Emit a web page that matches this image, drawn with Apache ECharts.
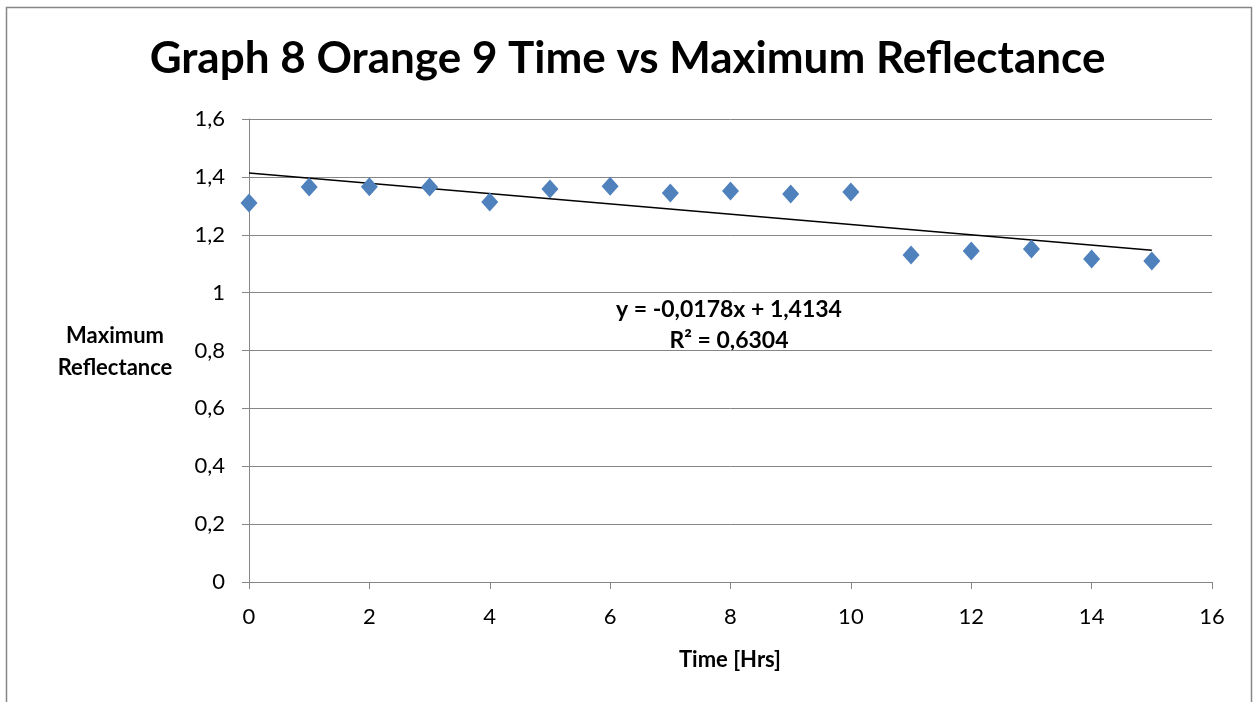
<!DOCTYPE html>
<html>
<head>
<meta charset="utf-8">
<script src="https://cdn.jsdelivr.net/npm/echarts@6/dist/echarts.min.js"></script>
<style>
  html, body { margin: 0; padding: 0; background: #fff; }
  #chart { width: 1255px; height: 702px; }
</style>
</head>
<body>
<div id="chart"></div>
<script>
const chart = echarts.init(document.getElementById('chart'));
const font = 'Lato, "Open Sans", sans-serif';

// Time in hours
const hours = [0, 1, 2, 3, 4, 5, 6, 7, 8, 9, 10, 11, 12, 13, 14, 15];
// Maximum reflectance
const reflectance = [1.31, 1.365, 1.366, 1.365, 1.313, 1.358, 1.368, 1.344, 1.351, 1.341, 1.348,
  1.130, 1.144, 1.151, 1.116, 1.109];
// Linear trend line end points (y = -0,0178x + 1,4134)
const trendX = [0, 15];
const trendY = [1.4134, 1.1464];

const comma = v => String(v).replace('.', ',');

chart.setOption({
  animation: false,
  title: {
    text: 'Graph 8 Orange 9 Time vs Maximum Reflectance',
    left: 'center',
    top: 32,
    textStyle: { fontFamily: font, fontSize: 44, fontWeight: 'bold', color: '#000' }
  },
  grid: { left: 249, right: 43, top: 119, bottom: 120 },
  xAxis: {
    type: 'value',
    min: 0,
    max: 16,
    interval: 2,
    axisLine: { lineStyle: { color: '#868686', width: 1 } },
    axisTick: { show: true, length: 7, lineStyle: { color: '#868686' } },
    axisLabel: { margin: 24, fontFamily: font, fontSize: 22, color: '#000' },
    splitLine: { show: false }
  },
  yAxis: {
    type: 'value',
    min: 0,
    max: 1.6,
    interval: 0.2,
    axisLine: { show: true, lineStyle: { color: '#868686', width: 1 } },
    axisTick: { show: true, length: 7, lineStyle: { color: '#868686' } },
    axisLabel: {
      margin: 24, fontFamily: font, fontSize: 22, color: '#000',
      formatter: v => comma(+v.toFixed(1))
    },
    splitLine: { lineStyle: { color: '#868686', width: 1 } }
  },
  graphic: [
    {
      type: 'rect',
      shape: { x: 6.5, y: 7.5, width: 1245, height: 800 },
      style: { fill: null, stroke: '#868686', lineWidth: 1.5 },
      silent: true
    },
    {
      type: 'text', x: 730, y: 660,
      style: {
        text: 'Time [Hrs]', fontFamily: font, fontSize: 22, fontWeight: 'bold', fill: '#000',
        align: 'center', verticalAlign: 'middle'
      }
    },
    {
      type: 'text', x: 115, y: 352,
      style: {
        text: 'Maximum\nReflectance', fontFamily: font, fontSize: 22, fontWeight: 'bold',
        fill: '#000', align: 'center', verticalAlign: 'middle', lineHeight: 32
      }
    },
    {
      type: 'text', x: 729, y: 325,
      style: {
        text: 'y = -0,0178x + 1,4134\nR² = 0,6304', fontFamily: font, fontSize: 23, fontWeight: 'bold',
        fill: '#000', align: 'center', verticalAlign: 'middle', lineHeight: 31
      }
    }
  ],
  series: [
    {
      name: 'Reflectance',
      type: 'scatter',
      data: hours.map((h, i) => [h, reflectance[i]]),
      symbol: 'diamond',
      symbolSize: [17, 19],
      itemStyle: { color: '#4F81BD', opacity: 1 }
    },
    {
      name: 'Linear',
      type: 'line',
      data: trendX.map((x, i) => [x, trendY[i]]),
      showSymbol: false,
      lineStyle: { color: '#000', width: 1.5 },
      z: 1
    }
  ]
});
</script>
</body>
</html>
